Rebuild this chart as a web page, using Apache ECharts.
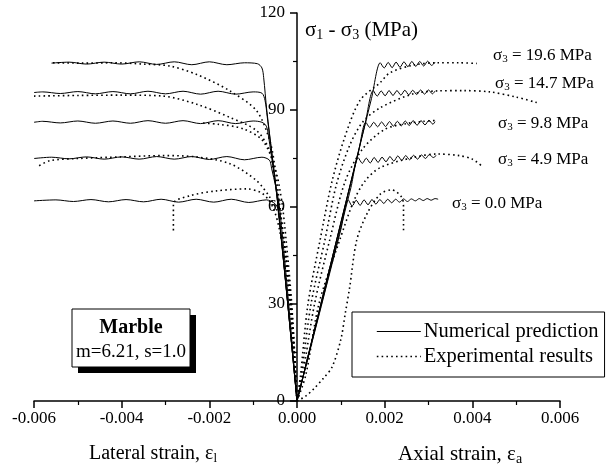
<!DOCTYPE html>
<html>
<head>
<meta charset="utf-8">
<script src="https://cdn.jsdelivr.net/npm/echarts@6/dist/echarts.min.js"></script>
<style>html,body{margin:0;padding:0;background:#fff;}#c{width:609px;height:468px;}</style>
</head>
<body>
<div id="c"></div>
<script>
// ---------- data (strain, MPa) ----------
var xTicks = [-0.006, -0.004, -0.002, 0.000, 0.002, 0.004, 0.006];
var yTicks = [0, 30, 60, 90, 120];
var pressures = ['19.6', '14.7', '9.8', '4.9', '0.0'];

// Numerical prediction, axial side
var num196R = [[0,0],[0.0017,93.6],[0.0019,104.6],[0.00199,103.0],[0.00208,104.7],[0.00217,103.1],[0.00226,104.8],[0.00235,103.2],[0.00244,104.9],[0.00253,103.4],[0.00262,105.0],[0.00271,103.5],[0.0028,105.0],[0.00289,103.6],[0.00298,105.1],[0.00307,103.8],[0.00315,104.8]];
var num147R = [[0,0],[0.00155,85.5],[0.00174,96.0],[0.00183,94.3],[0.00192,95.9],[0.00201,94.4],[0.0021,96.0],[0.00219,94.5],[0.00228,96.0],[0.00237,94.6],[0.00246,96.1],[0.00255,94.7],[0.00264,96.1],[0.00273,94.8],[0.00282,96.2],[0.00291,94.9],[0.003,96.2],[0.00309,95.0],[0.00315,95.9]];
var num98R = [[0,0],[0.0014,76.8],[0.00157,86.2],[0.00166,84.6],[0.00175,86.2],[0.00184,84.8],[0.00193,86.3],[0.00202,84.9],[0.00211,86.4],[0.0022,85.0],[0.00229,86.5],[0.00238,85.1],[0.00247,86.6],[0.00256,85.2],[0.00265,86.7],[0.00274,85.3],[0.00283,86.7],[0.00292,85.4],[0.00301,86.8],[0.0031,85.6],[0.00315,86.4]];
var num49R = [[0,0],[0.00123,66.0],[0.0014,75.2],[0.00149,73.5],[0.00158,75.1],[0.00167,73.6],[0.00176,75.3],[0.00185,73.8],[0.00194,75.4],[0.00203,74.0],[0.00212,75.6],[0.00221,74.2],[0.0023,75.8],[0.00239,74.4],[0.00248,75.9],[0.00257,74.6],[0.00266,76.0],[0.00275,74.8],[0.00284,76.1],[0.00293,75.0],[0.00302,76.2],[0.00311,75.3],[0.00318,76.0]];
var num00R = [[0,0],[0.001,53.0],[0.00117,62.2],[0.00126,60.3],[0.00135,62.1],[0.00144,60.5],[0.00153,62.2],[0.00162,60.7],[0.00171,62.3],[0.0018,60.9],[0.00189,62.3],[0.00198,61.1],[0.00207,62.4],[0.00216,61.3],[0.00225,62.4],[0.00234,61.5],[0.00243,62.5],[0.00252,61.7],[0.00261,62.5],[0.0027,61.9],[0.00279,62.6],[0.00288,62.0],[0.00297,62.6],[0.00306,62.1],[0.00315,62.6],[0.00322,62.4]];

// Numerical prediction, lateral side
var num196L = [[0,0],[-0.00043,60],[-0.00069,90],[-0.00076,100],[-0.0008,103],[-0.0009,104.3],[-0.0012,104.6],[-0.0016,104.0],[-0.002,104.9],[-0.0024,104.0],[-0.0028,104.9],[-0.0032,104.1],[-0.0036,104.9],[-0.004,104.2],[-0.0044,104.8],[-0.0048,104.2],[-0.0052,104.8],[-0.0056,104.5]];
var num147L = [[0,0],[-0.00043,60],[-0.00068,88],[-0.00073,93],[-0.0008,95.2],[-0.001,95.6],[-0.0014,94.9],[-0.0018,95.8],[-0.0022,94.9],[-0.0026,95.8],[-0.003,95.0],[-0.0034,95.8],[-0.0038,95.0],[-0.0042,95.7],[-0.0046,95.0],[-0.005,95.7],[-0.0054,95.1],[-0.0058,95.6],[-0.006,95.4]];
var num98L = [[0,0],[-0.00043,60],[-0.00065,82],[-0.0007,85],[-0.0008,86.2],[-0.001,86.6],[-0.0014,85.8],[-0.0018,86.7],[-0.0022,85.8],[-0.0026,86.7],[-0.003,85.9],[-0.0034,86.7],[-0.0038,85.9],[-0.0042,86.6],[-0.0046,85.9],[-0.005,86.6],[-0.0054,86.0],[-0.0058,86.5],[-0.006,86.2]];
var num49L = [[0,0],[-0.0004,60],[-0.00058,72],[-0.00063,74.5],[-0.0008,75.4],[-0.0012,74.6],[-0.0016,75.6],[-0.002,74.7],[-0.0024,75.6],[-0.0028,74.8],[-0.0032,75.6],[-0.0036,74.8],[-0.004,75.5],[-0.0044,74.8],[-0.0048,75.5],[-0.0052,74.9],[-0.0056,75.4],[-0.006,75.0]];
var num00L = [[0,0],[-0.00043,59],[-0.0005,61],[-0.0007,62.2],[-0.0011,61.4],[-0.0015,62.4],[-0.0019,61.5],[-0.0023,62.4],[-0.0027,61.5],[-0.0031,62.4],[-0.0035,61.6],[-0.0039,62.3],[-0.0043,61.6],[-0.0047,62.3],[-0.0051,61.7],[-0.0055,62.2],[-0.006,61.9]];

// Experimental results, axial side
var exp196R = [[0,0],[0.00008,8],[0.00025,30],[0.00053,50],[0.0008,68],[0.0011,82],[0.00144,93],[0.0019,98.5],[0.00212,101.5],[0.00266,103.9],[0.0032,104.6],[0.0037,104.6],[0.0041,104.4]];
var exp147R = [[0,0],[0.0001,8],[0.00032,30],[0.00064,50],[0.0009,67],[0.0012,79],[0.0015,86.3],[0.0019,90.7],[0.00265,95],[0.0032,95.9],[0.0038,96],[0.0044,95.6],[0.005,94],[0.00547,92.3]];
var exp98R = [[0,0],[0.00013,8],[0.0004,30],[0.00075,50],[0.0011,68],[0.0015,78],[0.002,84],[0.0025,85.8],[0.0029,86.5],[0.0032,86.8]];
var exp49R = [[0,0],[0.0002,8],[0.0005,30],[0.00098,50],[0.0013,62],[0.00155,68],[0.0019,72.2],[0.00265,75.3],[0.0032,76.4],[0.0037,75.9],[0.004,74.8],[0.00425,72.3]];
var exp00R = [[0,0],[0.0002,1.5],[0.0004,4],[0.0006,7],[0.0008,10.5],[0.001,19],[0.0011,27],[0.0012,35],[0.00136,49.6],[0.0016,58],[0.0019,64],[0.00216,65.3],[0.00239,63],[0.00243,60],[0.00243,51.8]];

// Experimental results, lateral side
var exp196L = [[0,0],[-0.00015,30],[-0.0003,50],[-0.00039,60],[-0.0005,72],[-0.00062,80.5],[-0.00092,89.7],[-0.00153,95.9],[-0.00229,101],[-0.0029,103.6],[-0.0035,104.2],[-0.0042,104.6],[-0.0049,104.5],[-0.0056,104.6]];
var exp147L = [[0,0],[-0.00015,30],[-0.0003,50],[-0.0004,60],[-0.00055,72],[-0.00062,77.4],[-0.00092,83.6],[-0.00153,87.7],[-0.00229,91.8],[-0.00306,94.3],[-0.004,94.6],[-0.005,94.5],[-0.006,94.3]];
var exp98L = [[0,0],[-0.00012,30],[-0.00025,50],[-0.00035,62],[-0.0005,72],[-0.00078,80.5],[-0.00123,84.2],[-0.0018,85.6],[-0.0022,86]];
var exp49L = [[0,0],[-0.0001,25],[-0.00025,45],[-0.0004,57],[-0.00062,63],[-0.00092,68.1],[-0.00153,73.4],[-0.0023,75.5],[-0.00306,75.9],[-0.004,75.5],[-0.005,75],[-0.00564,74.3],[-0.00594,72.3]];
var exp00L = [[0,0],[-0.0001,20],[-0.00025,40],[-0.0004,53],[-0.00055,59.9],[-0.00078,64.1],[-0.00115,65.6],[-0.00183,65],[-0.00244,63.5],[-0.00282,61],[-0.00282,52.2]];

var numName = 'Numerical prediction';
var expName = 'Experimental results';

// ---------- chart ----------
var FONT = 'Liberation Serif';
var chart = echarts.init(document.getElementById('c'), null, {renderer: 'canvas'});

function numSeries(d) {
  return {name: numName, type: 'line', data: d, showSymbol: false, symbol: 'none', smooth: 0.3,
    lineStyle: {color: '#000', width: 1, type: 'solid'}, z: 3};
}
function expSeries(d) {
  return {name: expName, type: 'line', data: d, showSymbol: false, symbol: 'none', smooth: 0.3,
    lineStyle: {color: '#000', width: 1.6, type: [1.6, 3.2]}, z: 2};
}
var series = [];
[num196R, num147R, num98R, num49R, num00R, num196L, num147L, num98L, num49L, num00L].forEach(function (d) { series.push(numSeries(d)); });
[exp196R, exp147R, exp98R, exp49R, exp00R, exp196L, exp147L, exp98L, exp49L, exp00L].forEach(function (d) { series.push(expSeries(d)); });

function richSet(size) {
  return {
    n: {fontFamily: FONT, fontSize: size, color: '#000', lineHeight: size + 1, verticalAlign: 'top'},
    s: {fontFamily: FONT, fontSize: Math.round(size * 0.65), color: '#000', lineHeight: Math.round(size * 0.65),
        padding: [Math.round(size * 0.53), 0, 0, 0], verticalAlign: 'bottom'}
  };
}
var annoY = [55, 83, 123, 159, 203];
var annoX = [493, 495, 498, 498, 452];
var graphics = [];
pressures.forEach(function (p, i) {
  graphics.push({type: 'text', left: annoX[i], top: annoY[i] - 10, z: 10,
    style: {text: '{n|σ}{s|3}{n| = ' + p + ' MPa}', rich: richSet(17)}});
});
graphics.push({type: 'text', left: 305, top: 17, z: 10,
  style: {text: '{n|σ}{s|1}{n| - σ}{s|3}{n| (MPa)}', rich: richSet(21)}});
graphics.push({type: 'text', left: 89, top: 441, z: 10,
  style: {text: '{n|Lateral strain, ε}{s|l}', rich: richSet(20)}});
graphics.push({type: 'text', left: 398, top: 441, z: 10,
  style: {text: '{n|Axial strain, ε}{s|a}', rich: richSet(21)}});
// Marble box with shadow
graphics.push({type: 'rect', shape: {x: 78, y: 315, width: 118, height: 58}, style: {fill: '#000'}, z: 10});
graphics.push({type: 'rect', shape: {x: 72, y: 309, width: 118, height: 58}, style: {fill: '#fff', stroke: '#000', lineWidth: 1}, z: 11});
graphics.push({type: 'text', x: 131, y: 328, z: 12, style: {text: 'Marble', font: 'bold 20px "Liberation Serif"', fill: '#000', textAlign: 'center', textVerticalAlign: 'middle'}});
graphics.push({type: 'text', x: 131, y: 352, z: 12, style: {text: 'm=6.21, s=1.0', font: '19px "Liberation Serif"', fill: '#000', textAlign: 'center', textVerticalAlign: 'middle'}});

chart.setOption({
  animation: false,
  backgroundColor: '#fff',
  grid: {left: 34, right: 49, top: 13, bottom: 67, containLabel: false},
  xAxis: {
    type: 'value', min: -0.006, max: 0.006, interval: 0.002,
    axisLine: {onZero: false, lineStyle: {color: '#000', width: 1.5}},
    axisTick: {show: true, length: 7, lineStyle: {color: '#000', width: 1.5}},
    minorTick: {show: true, splitNumber: 2, length: 4, lineStyle: {color: '#000', width: 1.2}},
    splitLine: {show: false},
    axisLabel: {fontFamily: FONT, fontSize: 17, color: '#000', margin: 9,
      formatter: function (v) { return v.toFixed(3); }}
  },
  yAxis: {
    type: 'value', min: 0, max: 120, interval: 30, position: 'left', offset: -263,
    axisLine: {onZero: false, lineStyle: {color: '#000', width: 1.5}},
    axisTick: {show: true, length: 7, lineStyle: {color: '#000', width: 1.5}},
    minorTick: {show: true, splitNumber: 2, length: 4, lineStyle: {color: '#000', width: 1.2}},
    splitLine: {show: false},
    axisLabel: {fontFamily: FONT, fontSize: 17, color: '#000', margin: 12}
  },
  legend: {
    orient: 'vertical', left: 352, top: 312,
    data: [
      {name: numName, itemStyle: {opacity: 0}, lineStyle: {color: '#000', width: 1, type: 'solid'}},
      {name: expName, itemStyle: {opacity: 0}, lineStyle: {color: '#000', width: 1.6, type: [1.6, 3.2]}}
    ],
    backgroundColor: '#fff', borderColor: '#000', borderWidth: 1,
    padding: [9, 6, 10, 24], itemGap: 4, itemWidth: 44, itemHeight: 18,
    textStyle: {fontFamily: FONT, fontSize: 20.5, color: '#000', padding: [0, 0, 0, -2]},
    selectedMode: false
  },
  graphic: graphics,
  series: series
});
</script>
</body>
</html>
